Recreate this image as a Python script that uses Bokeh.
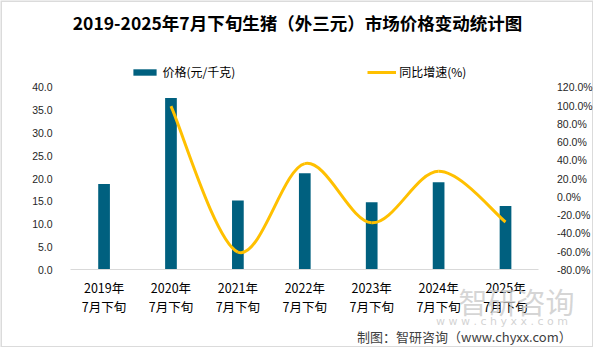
from bokeh.plotting import figure
from bokeh.models import (Range1d, FixedTicker, NumeralTickFormatter, LinearAxis,
                          PrintfTickFormatter, Legend, LegendItem, Label, BoxAnnotation,
                          ColumnDataSource)
from bokeh.embed import file_html
from bokeh.resources import INLINE

# ---- data ----
categories = ["2019年\n7月下旬", "2020年\n7月下旬", "2021年\n7月下旬", "2022年\n7月下旬",
              "2023年\n7月下旬", "2024年\n7月下旬", "2025年\n7月下旬"]
price = [18.8, 37.7, 15.2, 21.2, 14.8, 19.2, 14.0]
growth = [None, 99.5, -60.5, 36.5, -28.5, 28.0, -27.5]
left_ticks = [0, 5, 10, 15, 20, 25, 30, 35, 40]
right_ticks = [-80, -60, -40, -20, 0, 20, 40, 60, 80, 100, 120]
series_names = ["价格(元/千克)", "同比增速(%)"]
title_text = "2019-2025年7月下旬生猪（外三元）市场价格变动统计图"
credit_text = "制图：智研咨询（www.chyxx.com）"
watermark_text = "智研咨询"
watermark_url = "w w w . c h y x x . c o m"

BAR = "#00607F"
LINE = "#FFC000"
CJK = "Noto Sans CJK SC"

# ---- geometry (figure pixels) ----
W, H = 593, 347
SX, SY = W / 609.0, H / 363.0          # reference -> figure scale
PL, PR = 72 * SX, 553 * SX             # plot-area left/right
PT, PB = 91 * SY, 281.7 * SY           # plot-area top/bottom
n = len(categories)
xs = list(range(1, n + 1))
xu = (PR - PL) / n
x_start = 0.5 - PL / xu
x_end = n + 0.5 + (W - PR) / xu
lo, hi = left_ticks[0], left_ticks[-1]
yu = (PB - PT) / (hi - lo)
y_top = hi + PT / yu
y_bot = lo - (H - PB) / yu
rlo, rhi = right_ticks[0], right_ticks[-1]
k = (rhi - rlo) / (hi - lo)
r_top = rlo + k * (y_top - lo)
r_bot = rlo + k * (y_bot - lo)


def sx(X):
    return X * SX


def sy(Y):
    return H - Y * SY


p = figure(width=W, height=H, output_backend="svg", toolbar_location=None,
           x_range=Range1d(x_start, x_end), y_range=Range1d(y_bot, y_top),
           min_border=0, background_fill_color="white", border_fill_color="white")
p.outline_line_color = None
p.xgrid.visible = False
p.ygrid.visible = False
p.extra_y_ranges = {"right": Range1d(r_bot, r_top)}

# x axis
p.xaxis.fixed_location = lo
p.xaxis.bounds = (0.5, n + 0.5)
p.xaxis.ticker = FixedTicker(ticks=xs)
p.xaxis.major_label_overrides = {i: c for i, c in zip(xs, categories)}
p.xaxis.axis_line_color = "#D9D9D9"
p.xaxis.major_tick_line_color = None
p.xaxis.minor_tick_line_color = None
p.xaxis.major_label_text_font = CJK
p.xaxis.major_label_text_font_size = "12.5px"
p.xaxis.major_label_text_color = "#000000"
p.xaxis.major_label_text_line_height = 1.0
p.xaxis.major_label_standoff = 2

# left axis
p.yaxis.fixed_location = 0.5
p.yaxis.ticker = FixedTicker(ticks=left_ticks)
p.yaxis.formatter = NumeralTickFormatter(format="0.0")
p.yaxis.axis_line_color = None
p.yaxis.major_tick_line_color = None
p.yaxis.minor_tick_line_color = None
p.yaxis.major_label_text_font = "Liberation Sans"
p.yaxis.major_label_text_font_size = "10.5px"
p.yaxis.major_label_text_color = "#262626"
p.yaxis.major_label_standoff = 12

# right axis
ra = LinearAxis(y_range_name="right", ticker=FixedTicker(ticks=right_ticks),
                formatter=PrintfTickFormatter(format="%.1f%%"), fixed_location=n + 0.5)
ra.axis_line_color = None
ra.major_tick_line_color = None
ra.minor_tick_line_color = None
ra.major_label_text_font = "Liberation Sans"
ra.major_label_text_font_size = "10.5px"
ra.major_label_text_color = "#262626"
ra.major_label_standoff = 12
p.add_layout(ra, "right")

# bars
bars = p.vbar(x=xs, top=price, width=0.175, fill_color=BAR, line_color=None)

# smoothed growth line (cubic Bezier segments, Catmull-Rom style control points)
pts = [(x, g) for x, g in zip(xs, growth) if g is not None]
seg = dict(x0=[], y0=[], x1=[], y1=[], cx0=[], cy0=[], cx1=[], cy1=[])
for i in range(len(pts) - 1):
    p0 = pts[i - 1] if i > 0 else pts[i]
    p1 = pts[i]
    p2 = pts[i + 1]
    p3 = pts[i + 2] if i + 2 < len(pts) else pts[i + 1]
    seg["x0"].append(p1[0]); seg["y0"].append(p1[1])
    seg["x1"].append(p2[0]); seg["y1"].append(p2[1])
    seg["cx0"].append(p1[0] + (p2[0] - p0[0]) / 6.0)
    seg["cy0"].append(p1[1] + (p2[1] - p0[1]) / 6.0)
    seg["cx1"].append(p2[0] - (p3[0] - p1[0]) / 6.0)
    seg["cy1"].append(p2[1] - (p3[1] - p1[1]) / 6.0)
curve = p.bezier(x0="x0", y0="y0", x1="x1", y1="y1", cx0="cx0", cy0="cy0",
                 cx1="cx1", cy1="cy1", source=ColumnDataSource(seg),
                 line_color=LINE, line_width=3, y_range_name="right")

# legend
legend = Legend(items=[LegendItem(label=series_names[0], renderers=[bars], index=0),
                       LegendItem(label=series_names[1], renderers=[curve], index=0)],
                orientation="horizontal", location=(sx(137) - 3, sy(84)),
                glyph_width=29, glyph_height=8, label_height=8, label_standoff=3,
                spacing=132, padding=0, margin=0, border_line_color=None,
                background_fill_alpha=0, label_text_font=CJK,
                label_text_font_size="12px", label_text_color="#000000")
p.add_layout(legend, "center")

# title
p.add_layout(Label(x=sx(305), y=sy(23), x_units="screen", y_units="screen",
                   text=title_text, text_align="center", text_baseline="middle",
                   text_font=CJK, text_font_style="bold", text_font_size="17.5px",
                   text_color="#000000"))

# watermark
p.add_layout(Label(x=sx(530), y=sy(314), x_units="screen", y_units="screen",
                   text=watermark_text, text_align="center", text_baseline="middle",
                   text_font=CJK, text_font_size="29px", text_color="#C8C8C8",
                   text_alpha=0.75))
p.add_layout(Label(x=sx(515), y=sy(336), x_units="screen", y_units="screen",
                   text=watermark_url, text_align="center", text_baseline="middle",
                   text_font="DejaVu Sans", text_font_size="11px", text_color="#C8C8C8",
                   text_alpha=0.8))

# credit
p.add_layout(Label(x=sx(599) - 12, y=sy(351), x_units="screen", y_units="screen",
                   text=credit_text, text_align="right", text_baseline="middle",
                   text_font=CJK, text_font_size="13px", text_color="#404040"))

# outer border
p.add_layout(BoxAnnotation(left=x_start, right=x_end, bottom=y_bot, top=y_top,
                           fill_alpha=0, line_color="#898989", line_width=3))

open("out.html", "w").write(file_html(p, INLINE))
